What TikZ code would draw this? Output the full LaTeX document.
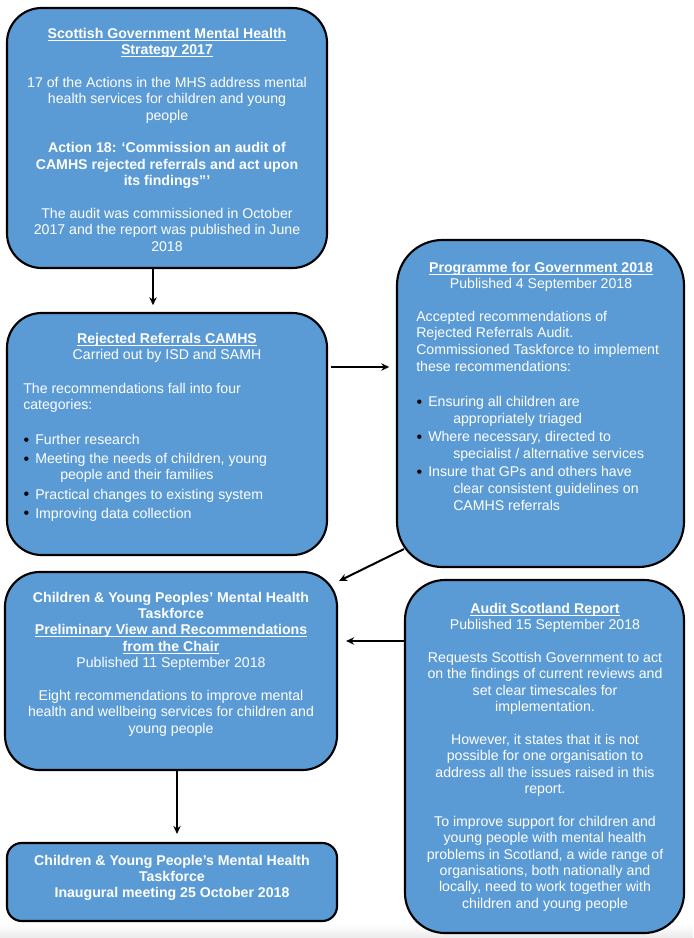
\documentclass[tikz,border=0pt]{standalone}
\usepackage{fontspec}
\setmainfont{Liberation Sans}
\usetikzlibrary{
    arrows.meta,
    positioning,
    backgrounds
}
\definecolor{boxcol}{HTML}{5B9BD5}
\newsavebox{\ulbox}
\newcommand{\ulhead}[1]{\sbox{\ulbox}{\textbf{#1}}%
    \rlap{\rule[-1.9pt]{\wd\ulbox}{0.7pt}}\usebox{\ulbox}}
\newcommand{\bulitem}{\makebox[9pt][l]{\hspace{0.3pt}%
    \raisebox{-0.6pt}[0pt][0pt]{\fontsize{12pt}{12pt}\selectfont\textcolor{black}{\textbullet}}}}
\newcommand{\contline}{\hspace*{27.75pt}}

\begin{document}
\begin{tikzpicture}[
    x=0.75pt, y=-0.75pt,
    font=\fontsize{10.6pt}{12.3pt}\selectfont,
    box/.style={
        draw, line width=1.6pt, fill=boxcol,
        rounded corners=26pt, inner sep=0pt
    },
    txt/.style={
        text=white, inner sep=0pt,
        align=center, anchor=north
    },
    ltxt/.style={
        text=white, inner sep=0pt,
        align=left, anchor=north west
    },
    arr/.style={-{Stealth[length=6pt, width=5.5pt]}, line width=1.5pt},
]
\useasboundingbox (0,0) rectangle (693,938);

% faint grey band at the foot of the page
\begin{scope}[on background layer]
    \shade[top color=white, bottom color=black!8] (0,924) rectangle (693,938);
\end{scope}

% ── Boxes ──
\node[box, minimum width=240pt, minimum height=195pt] (strategy) at (167,138) {};
\node[box, minimum width=240pt, minimum height=181.5pt] (rejected) at (167,434) {};
\node[box, minimum width=215.25pt, minimum height=245.25pt,
      rounded corners=34pt] (programme) at (540.5,403.5) {};
\node[box, minimum width=249pt, minimum height=148.5pt] (prelim) at (171,671) {};
\node[box, minimum width=209.25pt, minimum height=264.75pt,
      rounded corners=30pt] (audit) at (544.5,756.5) {};
\node[box, minimum width=247.5pt, minimum height=58.5pt,
      rounded corners=11pt] (inaugural) at (172,882) {};

% ── Texts ──

% Mental Health Strategy
\node[txt] (strategytxt) at (167,27.5) {
    \ulhead{Scottish Government Mental Health}\\
    \ulhead{Strategy 2017}\\[12.3pt]
    17 of the Actions in the MHS address mental\\
    health services for children and young\\
    people\\[12.3pt]
    \textbf{Action 18: ‘Commission an audit of}\\
    \textbf{CAMHS rejected referrals and act upon}\\
    \textbf{its findings”’}\\[12.3pt]
    The audit was commissioned in October\\
    2017 and the report was published in June\\
    2018
};

% Rejected referrals audit
\node[txt] (rejectedhd) at (167,332.5) {
    \ulhead{Rejected Referrals CAMHS}\\
    Carried out by ISD and SAMH
};
\node[ltxt] (rejectedtxt) at (23,382.5) {
    The recommendations fall into four\\
    categories:\\[14pt]
    \bulitem Further research\\[2pt]
    \bulitem Meeting the needs of children, young\\
    \contline people and their families\\[2pt]
    \bulitem Practical changes to existing system\\[2pt]
    \bulitem Improving data collection
};

% Programme for Government
\node[txt] (programmehd) at (541,261.5) {
    \ulhead{Programme for Government 2018}\\
    Published 4 September 2018
};
\node[ltxt, font=\fontsize{10.6pt}{12.6pt}\selectfont] (programmetxt) at (416,310.5) {
    Accepted recommendations of\\
    Rejected Referrals Audit.\\
    Commissioned Taskforce to implement\\
    these recommendations:\\[14pt]
    \bulitem Ensuring all children are\\
    \contline appropriately triaged\\[1pt]
    \bulitem Where necessary, directed to\\
    \contline specialist / alternative services\\[1pt]
    \bulitem Insure that GPs and others have\\
    \contline clear consistent guidelines on\\
    \contline CAMHS referrals
};

% Taskforce preliminary view
\node[txt] (prelimtxt) at (171,591.5) {
    \textbf{Children \& Young Peoples’ Mental Health}\\
    \textbf{Taskforce}\\
    \ulhead{Preliminary View and Recommendations}\\
    \ulhead{from the Chair}\\
    Published 11 September 2018\\[12.3pt]
    Eight recommendations to improve mental\\
    health and wellbeing services for children and\\
    young people
};

% Audit Scotland
\node[txt] (audittxt) at (545,602.5) {
    \ulhead{Audit Scotland Report}\\
    Published 15 September 2018\\[12.3pt]
    Requests Scottish Government to act\\
    on the findings of current reviews and\\
    set clear timescales for\\
    implementation.\\[12.3pt]
    However, it states that it is not\\
    possible for one organisation to\\
    address all the issues raised in this\\
    report.\\[12.3pt]
    To improve support for children and\\
    young people with mental health\\
    problems in Scotland, a wide range of\\
    organisations, both nationally and\\
    locally, need to work together with\\
    children and young people
};

% Inaugural meeting
\node[txt, font=\fontsize{10.6pt}{12.3pt}\selectfont\bfseries] (inauguraltxt) at (172,854.5) {
    Children \& Young People’s Mental Health\\
    Taskforce\\
    Inaugural meeting 25 October 2018
};

% ── Arrows ──
\coordinate (downone) at (153,0);
\coordinate (rowtop) at (0,367);
\coordinate (rowmid) at (0,641);
\coordinate (downtwo) at (177,0);

\draw[arr, shorten >=5pt] (strategy.south -| downone) -- (rejected.north -| downone);
\draw[arr, shorten <=2pt, shorten >=5pt] (rejected.east |- rowtop) -- (programme.west |- rowtop);
\draw[arr] ([shift={(8,-19)}]programme.south west) -- ([shift={(1,10)}]prelim.north east);
\draw[arr, shorten >=6pt] (audit.west |- rowmid) -- (prelim.east |- rowmid);
\draw[arr, shorten >=6pt] (prelim.south -| downtwo) -- (inaugural.north -| downtwo);

\end{tikzpicture}
\end{document}
